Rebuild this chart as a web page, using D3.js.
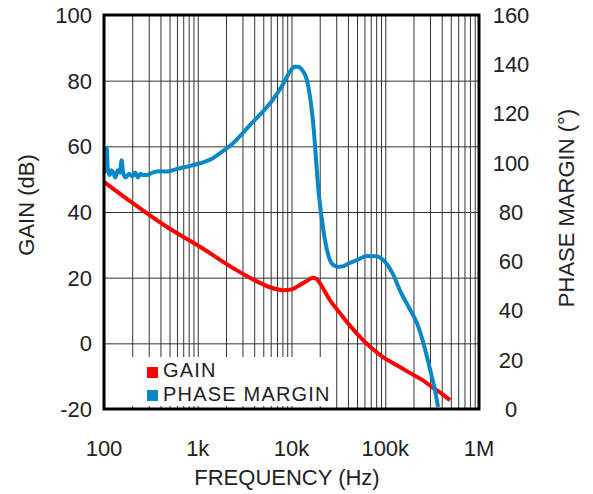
<!DOCTYPE html>
<html>
<head>
<meta charset="utf-8">
<script src="https://cdn.jsdelivr.net/npm/d3@7"></script>
<style>
  body { margin: 0; background: #fff; }
  text { font-family: "Liberation Sans", Arial, sans-serif; fill: #222; }
</style>
</head>
<body>
<script>
// values
var freqTicks = [100, 1000, 10000, 100000, 1000000];
var freqLabels = ["100", "1k", "10k", "100k", "1M"];
var gainTicks = [-20, 0, 20, 40, 60, 80, 100];
var phaseTicks = [0, 20, 40, 60, 80, 100, 120, 140, 160];

var gainFreq = [100, 205, 466, 1060, 2380, 3600, 4600, 6000, 8100, 10000, 12300, 15000, 16900, 18500, 20000, 25600, 32900, 42000, 53700, 70000, 94600, 130000, 183000, 250000, 315000, 400000, 490000];
var gainDb = [49.2, 42.6, 35.5, 29.4, 22.9, 20, 18.4, 17, 16.2, 16.4, 17.8, 19.2, 20, 19.6, 18.4, 13.2, 9.2, 5.4, 2, -1.2, -4.2, -6.5, -9, -11.2, -13.3, -15.3, -17.3];

var phaseFreq = [100, 104, 107, 110, 115, 120, 126, 132, 140, 148, 154, 160, 170, 185, 200, 215, 230, 245, 260, 285, 330, 400, 466, 600, 763, 1060, 1400, 1720, 2380, 3600, 6300, 8000, 9600, 10800, 11800, 12800, 14600, 16900, 19600, 21600, 23900, 27000, 31300, 36000, 41900, 50000, 63800, 80000, 95000, 120000, 143000, 180000, 218000, 250000, 279000, 310000, 339000, 366000];
var phaseDeg = [96, 99, 106, 97, 95, 97, 96, 94, 97, 96, 101, 96, 94, 95.5, 94.5, 96, 94, 95.5, 95, 95, 96, 96.5, 96.4, 97.5, 98.4, 99.8, 101.5, 103.8, 107.9, 115.3, 125.5, 131.5, 136.9, 139, 139, 138, 133.6, 117.4, 87, 74, 64.6, 59, 57.7, 58, 59.3, 60.5, 62.1, 62, 60.5, 55, 48.3, 41, 34.9, 28, 21.1, 14, 7.7, 0.8];

var W = 593, H = 494;
var plot = { left: 104, right: 479, top: 15, bottom: 409 };
var fs = 22;

var svg = d3.select("body").append("svg")
    .attr("width", W)
    .attr("height", H);

var x = d3.scaleLog().domain([100, 1000000]).range([plot.left, plot.right]);
var yGain = d3.scaleLinear().domain([-20, 100]).range([plot.bottom, plot.top]);
var yPhase = d3.scaleLinear().domain([0, 160]).range([plot.bottom, plot.top]);

// grid: every 1..9 per decade vertically, every 20 dB horizontally
var minor = [];
for (var dec = 100; dec < 1000000; dec *= 10) {
    for (var m = 2; m <= 9; m++) minor.push(dec * m);
}
svg.append("g")
    .attr("transform", "translate(0," + plot.bottom + ")")
    .call(d3.axisBottom(x).tickValues(minor.concat(freqTicks)).tickSize(-(plot.bottom - plot.top)).tickFormat(""))
    .call(g => g.select(".domain").remove())
    .call(g => g.selectAll("line").attr("stroke", "#333").attr("stroke-width", 1));

svg.append("g")
    .attr("transform", "translate(" + plot.left + ",0)")
    .call(d3.axisLeft(yGain).tickValues(gainTicks).tickSize(-(plot.right - plot.left)).tickFormat(""))
    .call(g => g.select(".domain").remove())
    .call(g => g.selectAll("line").attr("stroke", "#333").attr("stroke-width", 1));

// legend background hides the grid behind it
svg.append("rect")
    .attr("x", plot.left).attr("y", 357)
    .attr("width", 230).attr("height", 49)
    .attr("fill", "#fff");

var gainLine = d3.line()
    .x((d, i) => x(gainFreq[i]))
    .y(d => yGain(d))
    .curve(d3.curveMonotoneX);

var phaseLine = d3.line()
    .x((d, i) => x(phaseFreq[i]))
    .y(d => yPhase(d))
    .curve(d3.curveMonotoneX);

svg.append("path")
    .attr("d", gainLine(gainDb))
    .attr("fill", "none")
    .attr("stroke", "#ff0000")
    .attr("stroke-width", 4)
    .attr("stroke-linejoin", "round");

svg.append("path")
    .attr("d", phaseLine(phaseDeg))
    .attr("fill", "none")
    .attr("stroke", "#0a87c6")
    .attr("stroke-width", 4)
    .attr("stroke-linejoin", "round");

// frame
svg.append("rect")
    .attr("x", plot.left).attr("y", plot.top)
    .attr("width", plot.right - plot.left).attr("height", plot.bottom - plot.top)
    .attr("fill", "none")
    .attr("stroke", "#000")
    .attr("stroke-width", 3);

// tick labels
svg.selectAll(".gl")
    .data(gainTicks)
    .enter().append("text")
    .attr("x", 92)
    .attr("y", d => yGain(d))
    .attr("dy", "0.36em")
    .attr("text-anchor", "end")
    .attr("font-size", fs)
    .text(d => d);

svg.selectAll(".pl")
    .data(phaseTicks)
    .enter().append("text")
    .attr("x", 511)
    .attr("y", d => yPhase(d))
    .attr("dy", "0.36em")
    .attr("text-anchor", "middle")
    .attr("font-size", fs)
    .text(d => d);

svg.selectAll(".fl")
    .data(freqTicks)
    .enter().append("text")
    .attr("x", d => x(d))
    .attr("y", 456)
    .attr("text-anchor", "middle")
    .attr("font-size", fs)
    .text((d, i) => freqLabels[i]);

// axis titles
svg.append("text")
    .text("FREQUENCY (Hz)")
    .attr("x", 287).attr("y", 485)
    .attr("text-anchor", "middle")
    .attr("font-size", fs);

svg.append("text")
    .text("GAIN (dB)")
    .attr("transform", "translate(34,205) rotate(-90)")
    .attr("text-anchor", "middle")
    .attr("font-size", fs);

svg.append("text")
    .text("PHASE MARGIN (°)")
    .attr("transform", "translate(574,208) rotate(-90)")
    .attr("text-anchor", "middle")
    .attr("font-size", fs);

// legend
var legend = [["GAIN", "#ff0000"], ["PHASE MARGIN", "#0a87c6"]];
legend.forEach(function (l, i) {
    svg.append("rect")
        .attr("x", 147).attr("y", 367 + i * 23)
        .attr("width", 11).attr("height", 11)
        .attr("fill", l[1]);
    svg.append("text")
        .attr("x", 163).attr("y", 377 + i * 24)
        .attr("font-size", 20)
        .attr("letter-spacing", 1.2)
        .text(l[0]);
});
</script>
</body>
</html>
